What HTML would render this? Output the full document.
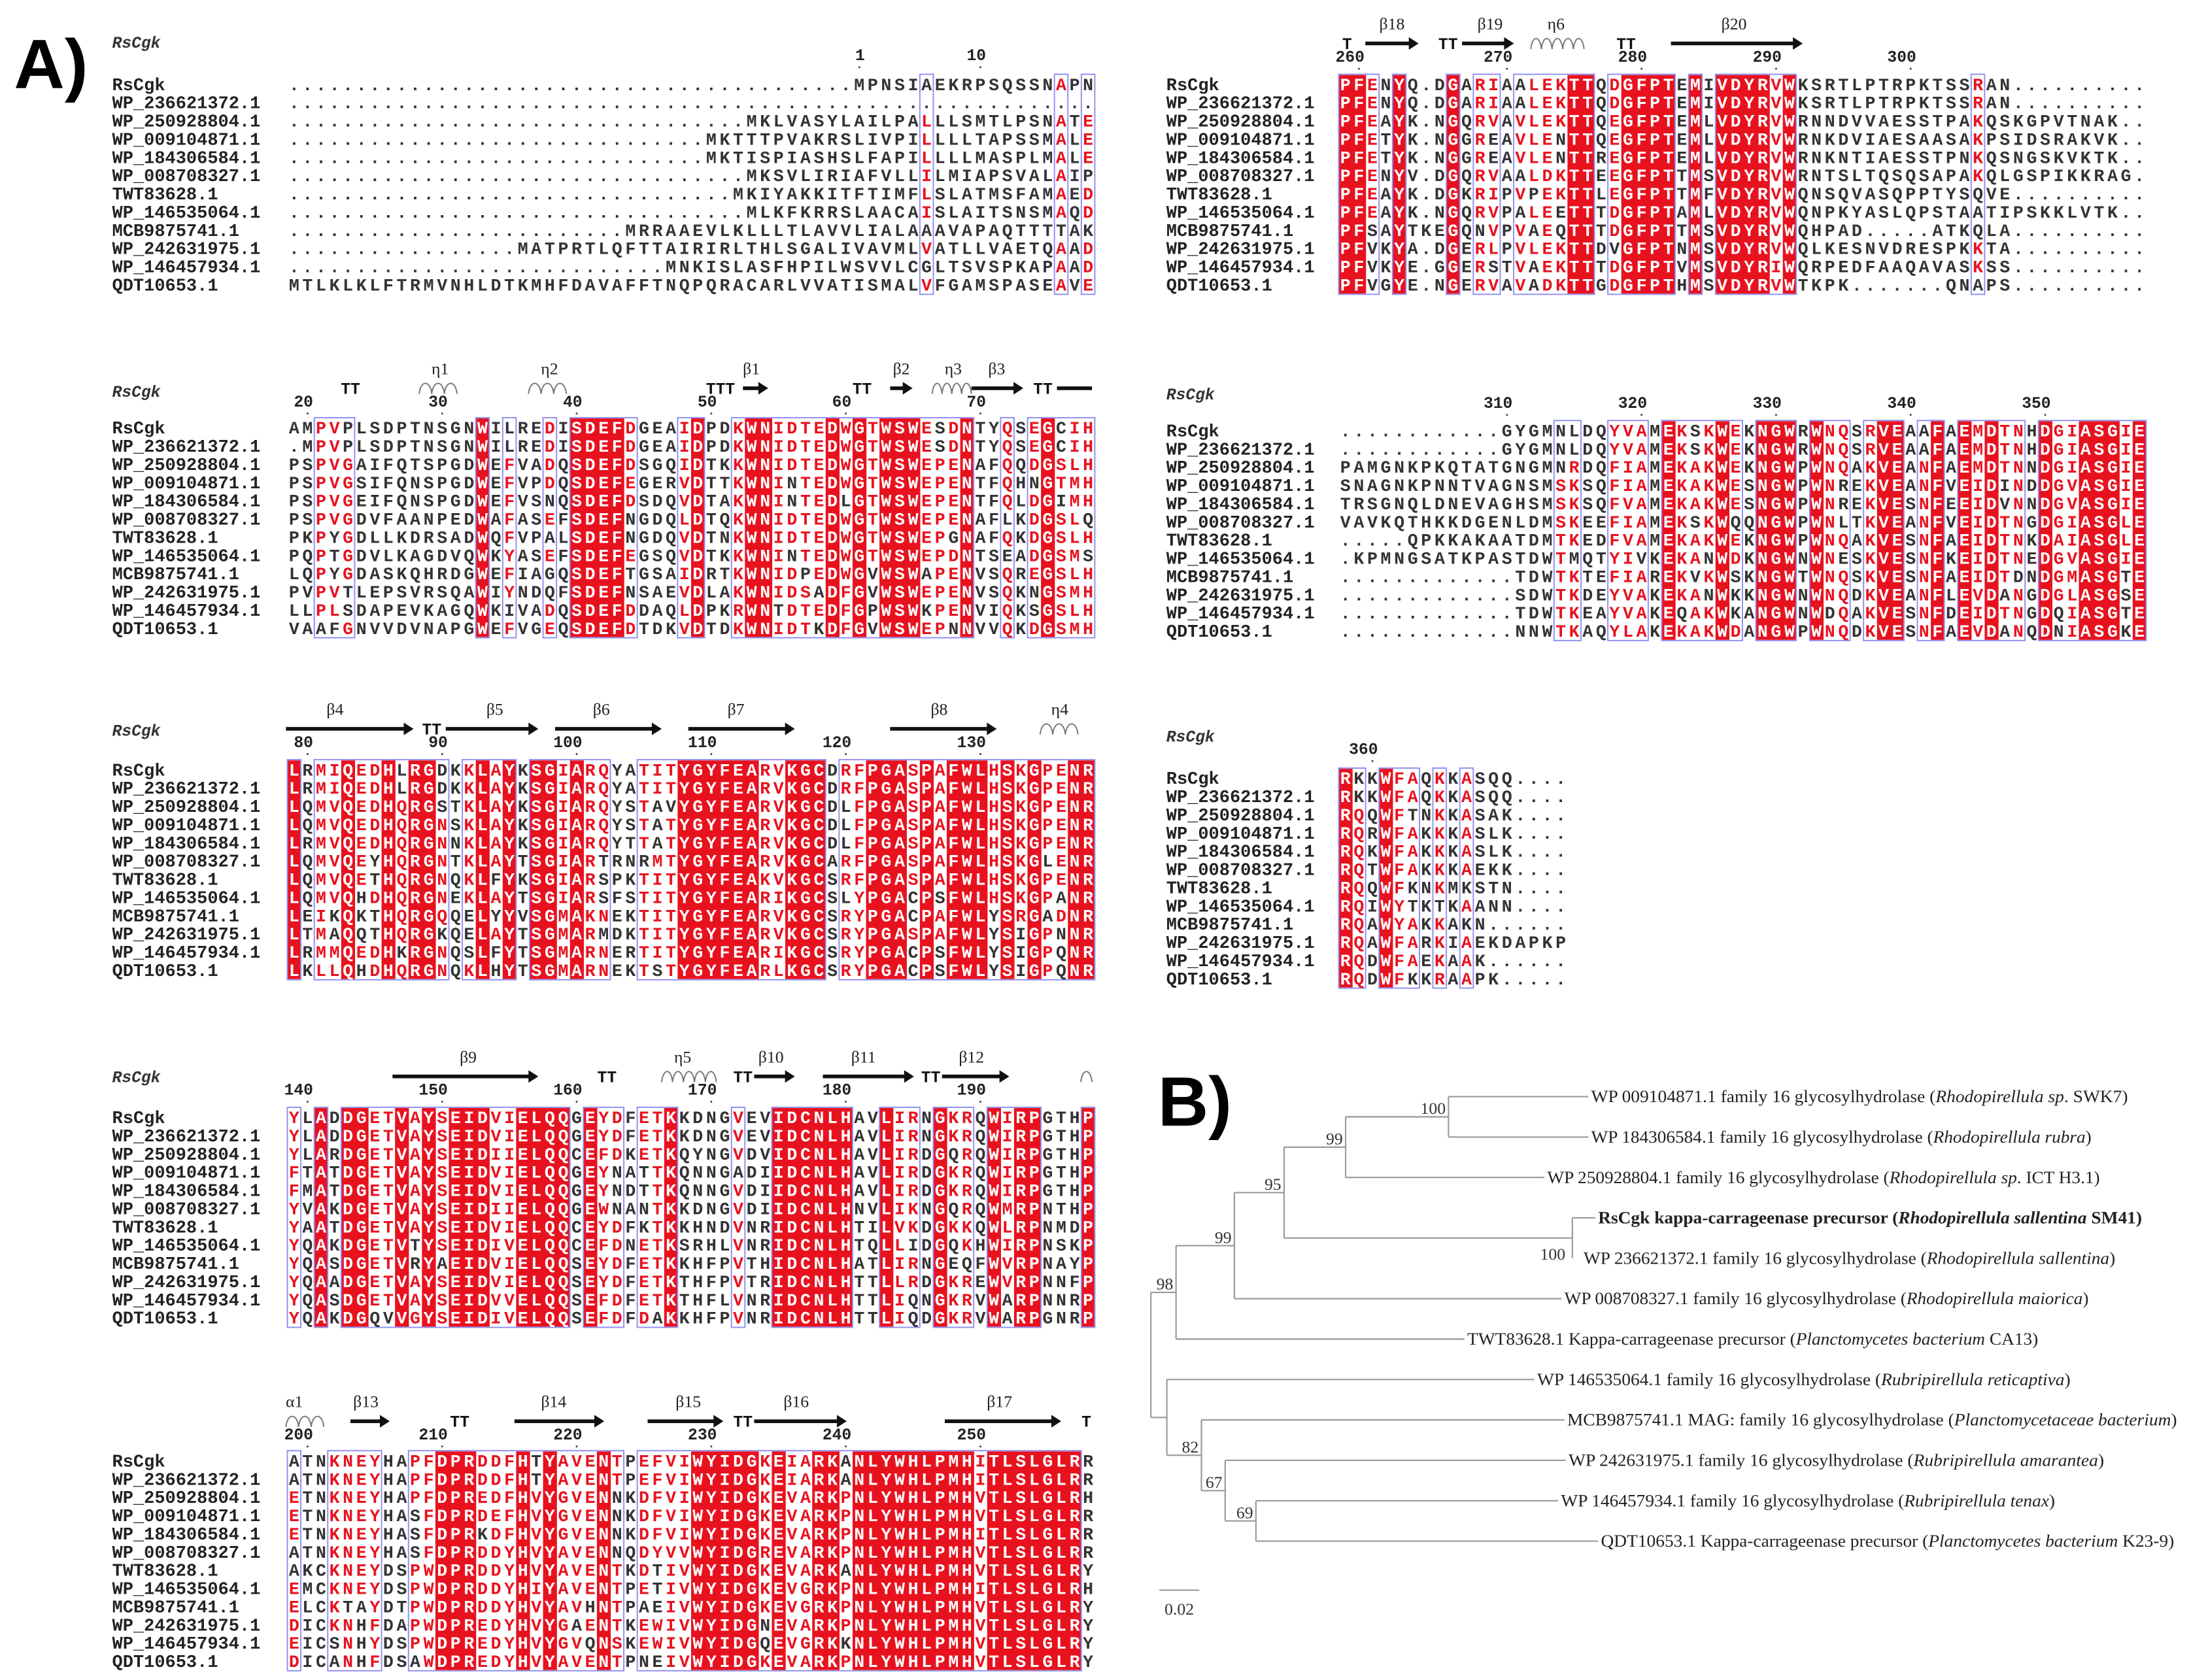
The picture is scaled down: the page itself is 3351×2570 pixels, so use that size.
<!DOCTYPE html>
<html><head><meta charset="utf-8">
<style>
html,body{margin:0;padding:0;background:#fff;}
svg{display:block;}
.mono{font-family:"Liberation Mono",monospace;font-weight:bold;}
.serif{font-family:"Liberation Serif",serif;}
</style></head>
<body>
<svg id="fig" xmlns="http://www.w3.org/2000/svg" width="3351" height="2570" viewBox="0 0 1563 1198.6" preserveAspectRatio="none">
<rect x="0" y="0" width="1563" height="1198.6" fill="#fff"/>
<text x="10" y="63" font-family="Liberation Sans, sans-serif" font-weight="bold" font-size="50">A)</text>
<text x="826" y="803" font-family="Liberation Sans, sans-serif" font-weight="bold" font-size="50">B)</text>
<g id="align"></g>
<g id="tree"></g>
</svg>
<script>
const NS="http://www.w3.org/2000/svg";
const seqNames=["RsCgk","WP_236621372.1","WP_250928804.1","WP_009104871.1","WP_184306584.1","WP_008708327.1","TWT83628.1","WP_146535064.1","MCB9875741.1","WP_242631975.1","WP_146457934.1","QDT10653.1"];

const seqB1=[
"MPNSIAEKRPSQSSNAPN","",
"MKLVASYLAILPALLLSMTLPSNATE","MKTTTPVAKRSLIVPILLLLTAPSSMALE","MKTISPIASHSLFAPILLLLMASPLMALE",
"MKSVLIRIAFVLLILMIAPSVALAIP","MKIYAKKITFTIMFLSLATMSFAMAED","MLKFKRRSLAACAISLAITSNSMAQD",
"MRRAAEVLKLLLTLAVVLIALAAAVAPAQTTTTAK","MATPRTLQFTTAIRIRLTHLSGALIVAVMLVATLLVAETQAAD",
"MNKISLASFHPILWSVVLCGLTSVSPKAPAAD","MTLKLKLFTRMVNHLDTKMHFDAVAFFTNQPQRACARLVVATISMALVFGAMSPASEAVE"];
const seqB2=[
"PFENYQ.DGARIAALEKTTQDGFPTEMIVDYRVWKSRTLPTRPKTSSRAN",
"PFENYQ.DGARIAALEKTTQDGFPTEMIVDYRVWKSRTLPTRPKTSSRAN",
"PFEAYK.NGQRVAVLEKTTQEGFPTEMLVDYRVWRNNDVVAESSTPAKQSKGPVTNAK",
"PFETYK.NGGREAVLENTTQEGFPTEMLVDYRVWRNKDVIAESAASAKPSIDSRAKVK",
"PFETYK.NGGREAVLENTTREGFPTEMLVDYRVWRNKNTIAESSTPNKQSNGSKVKTK",
"PFENYV.DGQRVAALDKTTEEGFPTTMSVDYRVWRNTSLTQSQSAPAKQLGSPIKKRAG",
"PFEAYK.DGKRIPVPEKTTLEGFPTTMFVDYRVWQNSQVASQPPTYSQVE",
"PFEAYK.NGQRVPALEETTTDGFPTAMLVDYRVWQNPKYASLQPSTAATIPSKKLVTK",
"PFSAYTKEGQNVPVAEQTTTDGFPTTMSVDYRVWQHPAD.....ATKQLA",
"PFVKYA.DGERLPVLEKTTDVGFPTNMSVDYRVWQLKESNVDRESPKKTA",
"PFVKYE.GGERSTVAEKTTTDGFPTVMSVDYRIWQRPEDFAAQAVASKSS",
"PFVGYE.NGERVAVADKTTGDGFPTHMSVDYRVWTKPK.......QNAPS"];
const seqB3=[
"AMPVPLSDPTNSGNWILREDISDEFDGEAIDPDKWNIDTEDWGTWSWESDNTYQSEGCIH",
".MPVPLSDPTNSGNWILREDISDEFDGEAIDPDKWNIDTEDWGTWSWESDNTYQSEGCIH",
"PSPVGAIFQTSPGDWEFVADQSDEFDSGQIDTKKWNIDTEDWGTWSWEPENAFQQDGSLH",
"PSPVGSIFQNSPGDWEFVPDQSDEFEGERVDTTKWNINTEDWGTWSWEPENTFQHNGTMH",
"PSPVGEIFQNSPGDWEFVSNQSDEFDSDQVDTAKWNINTEDLGTWSWEPENTFQLDGIMH",
"PSPVGDVFAANPEDWAFASEFSDEFNGDQLDTQKWNIDTEDWGTWSWEPENAFLKDGSLQ",
"PKPYGDLLKDRSADWQFVPALSDEFNGDQVDTNKWNIDTEDWGTWSWEPGNAFQKDGSLH",
"PQPTGDVLKAGDVQWKYASEFSDEFEGSQVDTKKWNINTEDWGTWSWEPDNTSEADGSMS",
"LQPYGDASKQHRDGWEFIAGQSDEFTGSAIDRTKWNIDPEDWGVWSWAPENVSQREGSLH",
"PVPVTLEPSVRSQAWIYNDQFSDEFNSAEVDLAKWNIDSADFGVWSWEPENVSQKNGSMH",
"LLPLSDAPEVKAGQWKIVADQSDEFDDAQLDPKRWNTDTEDFGPWSWKPENVIQKSGSLH",
"VAAFGNVVDVNAPGWEFVGEQSDEFDTDKVDTDKWNIDTKDFGVWSWEPNNVVQKDGSMH"];
const seqB4=[
"............GYGMNLDQYVAMEKSKWEKNGWRWNQSRVEAAFAEMDTNHDGIASGIE",
"............GYGMNLDQYVAMEKSKWEKNGWRWNQSRVEAAFAEMDTNHDGIASGIE",
"PAMGNKPKQTATGNGMNRDQFIAMEKAKWEKNGWPWNQAKVEANFAEMDTNNDGIASGIE",
"SNAGNKPNNTVAGNSMSKSQFIAMEKAKWESNGWPWNREKVEANFVEIDINDDGVASGIE",
"TRSGNQLDNEVAGHSMSKSQFVAMEKAKWESNGWPWNREKVESNFEEIDVNNDGVASGIE",
"VAVKQTHKKDGENLDMSKEEFIAMEKSKWQQNGWPWNLTKVEANFVEIDTNGDGIASGLE",
".....QPKKAKAATDMTKEDFVAMEKAKWEKNGWPWNQAKVESNFAEIDTNKDAIASGLE",
".KPMNGSATKPASTDWTMQTYIVKEKANWDKNGWNWNESKVESNFKEIDTNEDGVASGIE",
".............TDWTKTEFIAREKVKWSKNGWTWNQSKVESNFAEIDTDNDGMASGTE",
".............SDWTKDEYVAKEKANWKKNGWNWNQDKVEANFLEVDANGDGLASGSE",
".............TDWTKEAYVAKEQAKWKANGWNWDQAKVESNFDEIDTNGDQIASGTE",
".............NNWTKAQYLAKEKAKWDANGWPWNQDKVESNFAEVDANQDNIASGKE"];
const seqB5=[
"LRMIQEDHLRGDKKLAYKSGIARQYATITYGYFEARVKGCDRFPGASPAFWLHSKGPENR",
"LRMIQEDHLRGDKKLAYKSGIARQYATITYGYFEARVKGCDRFPGASPAFWLHSKGPENR",
"LQMVQEDHQRGSTKLAYKSGIARQYSTAVYGYFEARVKGCDLFPGASPAFWLHSKGPENR",
"LQMVQEDHQRGNSKLAYKSGIARQYSTATYGYFEARVKGCDLFPGASPAFWLHSKGPENR",
"LRMVQEDHQRGNNKLAYKSGIARQYTTATYGYFEARVKGCDLFPGASPAFWLHSKGPENR",
"LQMVQEYHQRGNTKLAYTSGIARTRNRMTYGYFEARVKGCARFPGASPAFWLHSKGLENR",
"LQMVQETHQRGNQKLFYKSGIARSPKTITYGYFEAKVKGCSRFPGASPAFWLHSKGPENR",
"LQMVQHDHQRGNEKLAYTSGIARSFSTITYGYFEARIKGCSLYPGACPSFWLHSKGPANR",
"LEIKQKTHQRGQQELYYVSGMAKNEKTITYGYFEARVKGCSRYPGACPAFWLYSRGADNR",
"LTMAQQTHQRGKQELAYTSGMARMDKTITYGYFEARVKGCSRYPGASPAFWLYSIGPNNR",
"LRMMQEDHKRGNQSLFYTSGMARNERTITYGYFEARIKGCSRYPGACPSFWLYSIGPQNR",
"LKLLQHDHQRGNQKLHYTSGMARNEKTSTYGYFEARLKGCSRYPGACPSFWLYSIGPQNR"];
const seqB6=[
"RKKWFAQKKASQQ....","RKKWFAQKKASQQ....","RQQWFTNKKASAK....","RQRWFAKKKASLK....",
"RQKWFAKKKASLK....","RQTWFAKKKAEKK....","RQQWFKNKMKSTN....","RQIWYTKTKAANN....",
"RQAWYAKKAKN......","RQAWFARKIAEKDAPKP","RQDWFAEKAAK......","RQDWFKKRAAPK....."];
const seqB7=[
"YLADDGETVAYSEIDVIELQQGEYDFETKKDNGVEVIDCNLHAVLIRNGKRQWIRPGTHP",
"YLADDGETVAYSEIDVIELQQGEYDFETKKDNGVEVIDCNLHAVLIRNGKRQWIRPGTHP",
"YLARDGETVAYSEIDIIELQQCEFDKETKQYNGVDVIDCNLHAVLIRDGQRQWIRPGTHP",
"FTATDGETVAYSEIDVIELQQGEYNATTKQNNGADIIDCNLHAVLIRDGKRQWIRPGTHP",
"FMATDGETVAYSEIDVIELQQGEYNDTTKQNNGVDIIDCNLHAVLIRDGKRQWIRPGTHP",
"YVAKDGETVAYSEIDIIELQQGEWNANTKKDNGVDIIDCNLHNVLIKNGQRQWMRPNTHP",
"YAATDGETVAYSEIDVIELQQCEYDFKTKKHNDVNRIDCNLHTILVKDGKKQWLRPNMDP",
"YQAKDGETVTYSEIDIVELQQCEFDNETKSRHLVNRIDCNLHTQLLIDGQKHWIRPNSKP",
"YQASDGETVRYAEIDVIELQQSEYDFETKKHFPVTHIDCNLHATLIRNGEQFWVRPNAYP",
"YQAADGETVAYSEIDVIELQQSEYDFETKTHFPVTRIDCNLHTTLLRDGKREWVRPNNFP",
"YQASDGETVAYSEIDVVELQQSEFDFETKTHFLVNRIDCNLHTTLIQNGKRVWARPNNRP",
"YQAKDGQVVGYSEIDIVELQQSEFDFDAKKHFPVNRIDCNLHTTLIQDGKRVWARPGNRP"];
const seqB8=[
"ATNKNEYHAPFDPRDDFHTYAVENTPEFVIWYIDGKEIARKANLYWHLPMHITLSLGLRR",
"ATNKNEYHAPFDPRDDFHTYAVENTPEFVIWYIDGKEIARKANLYWHLPMHITLSLGLRR",
"ETNKNEYHAPFDPREDFHVYGVENNKDFVIWYIDGKEVARKPNLYWHLPMHVTLSLGLRH",
"ETNKNEYHASFDPRDEFHVYGVENNKDFVIWYIDGKEVARKPNLYWHLPMHVTLSLGLRR",
"ETNKNEYHASFDPRKDFHVYGVENNKDFVIWYIDGKEVARKPNLYWHLPMHITLSLGLRR",
"ATNKNEYHASFDPRDDYHVYAVENNQDYVVWYIDGREVARKPNLYWHLPMHVTLSLGLRR",
"AKCKNEYDSPWDPRDDYHVYAVENTKDTIVWYIDGKEVARKANLYWHLPMHVTLSLGLRY",
"EMCKNEYDSPWDPRDDYHIYAVENTPETIVWYIDGKEVGRKPNLYWHLPMHITLSLGLRH",
"ELCKTAYDTPWDPRDDYHVYAVHNTPAEIVWYIDGKEVGRKPNLYWHLPMHVTLSLGLRY",
"DICKNHFDAPWDPREDYHVYGAENTKEWIVWYIDGNEVARKPNLYWHLPMHVTLSLGLRY",
"EICSNHYDSPWDPREDYHVYGVQNSKEWIVWYIDGQEVGRKKNLYWHLPMHVTLSLGLRY",
"DICANHFDSAWDPREDYHVYAVENTPNEIVWYIDGKEVARKPNLYWHLPMHVTLSLGLRY"];

/* first residue number of RsCgk in each block */
const blockStart=[1,259,19,310,79,358,139,199];
const blockMaxNum=[9999,9999,9999,9999,9999,360,9999,9999];

const CW=9.6, RP=13;
const blocks=[
 {seqs:seqB1,x:205,y:60,num:43,hdr:30,nx:80,len:60},
 {seqs:seqB2,x:955,y:60,num:44,hdr:null,nx:832,len:60},
 {seqs:seqB3,x:205,y:305,num:290,hdr:279,nx:80,len:60},
 {seqs:seqB4,x:955,y:307,num:291,hdr:281,nx:832,len:60},
 {seqs:seqB5,x:205,y:549,num:533,hdr:521,nx:80,len:60},
 {seqs:seqB6,x:955,y:555,num:538,hdr:525,nx:832,len:17},
 {seqs:seqB7,x:205,y:797,num:781,hdr:768,nx:80,len:60},
 {seqs:seqB8,x:205,y:1042,num:1027,hdr:null,nx:80,len:60}
];
const ssData=[
 [],
 [{t:'T',x:961},{a:[974,1012],l:'β18',lx:993},{t:'TT',x:1033},{a:[1043,1080],l:'β19',lx:1063},{c:[1092,1130],l:'η6',lx:1110},{t:'TT',x:1160},{a:[1192,1286],l:'β20',lx:1237}],
 [{t:'TT',x:250},{c:[299,326],l:'η1',lx:314},{c:[377,404],l:'η2',lx:392},{t:'TTT',x:514},{a:[530,548],l:'β1',lx:536},{t:'TT',x:615},{a:[635,651],l:'β2',lx:643},{c:[665,693],l:'η3',lx:680},{a:[693,730],l:'β3',lx:711},{t:'TT',x:744},{ln:[754,779]}],
 [],
 [{a:[204,295],l:'β4',lx:239},{t:'TT',x:308},{a:[318,384],l:'β5',lx:353},{a:[396,472],l:'β6',lx:429},{a:[491,567],l:'β7',lx:525},{a:[635,711],l:'β8',lx:670},{c:[742,769],l:'η4',lx:756}],
 [],
 [{a:[280,384],l:'β9',lx:334},{t:'TT',x:433},{c:[472,511],l:'η5',lx:487},{t:'TT',x:530},{a:[538,567],l:'β10',lx:550},{a:[587,652],l:'β11',lx:616},{t:'TT',x:664},{a:[672,720],l:'β12',lx:693},{c:[771,779]}],
 [{c:[204,231],l:'α1',lx:210},{a:[250,278],l:'β13',lx:261},{t:'TT',x:328},{a:[367,431],l:'β14',lx:395},{a:[462,516],l:'β15',lx:491},{t:'TT',x:530},{a:[538,604],l:'β16',lx:568},{a:[674,757],l:'β17',lx:713},{t:'T',x:775}]
];
const groups=["ILVM","FYW","KR","DE","ST","NQ","AG","H","C","P"];
const RED="#e8121f", BLUE="#8f8ff2";
const root=document.getElementById('align');
function mk(tag,attrs,parent){const e=document.createElementNS(NS,tag);for(const k in attrs)e.setAttribute(k,attrs[k]);(parent||root).appendChild(e);return e;}

blocks.forEach((b,bi)=>{
  const g=mk('g',{});
  
  
  const rows=b.seqs.map((s,i)=>{
    if(bi===0){ return ('.'.repeat(b.len)+s).slice(-b.len); }
    return (s+'.'.repeat(b.len)).slice(0,b.len);
  });
  const n=rows.length;
  const ident=[],sim=[],redRows=[];
  for(let c=0;c<b.len;c++){
    const col=rows.map(r=>r[c]);
    const allSame=col.every(ch=>ch!=='.'&&ch===col[0]);
    let best=0,bestG='';
    groups.forEach(gr=>{const k=col.filter(ch=>gr.includes(ch)).length;if(k>best){best=k;bestG=gr;}});
    ident.push(allSame);
    sim.push(!allSame && best/n>=0.6);
    redRows.push(col.map(ch=>bestG.includes(ch)));
  }
  const top=b.y-RP/2, bot=b.y+(n-1)*RP+RP/2;
  for(let c=0;c<b.len;c++){
    if(ident[c]){const r=mk('rect',{x:b.x+c*CW,y:top,width:CW+0.3,height:bot-top,fill:RED},g);
      }
  }
  let c=0;
  while(c<b.len){
    if(ident[c]||sim[c]){let e=c;while(e+1<b.len&&(ident[e+1]||sim[e+1]))e++;
      const r=mk('rect',{x:b.x+c*CW,y:top-0.5,width:(e-c+1)*CW,height:bot-top+1,fill:'none',stroke:BLUE,'stroke-width':0.9},g);
      
      c=e+1;} else c++;
  }
  rows.forEach((s,ri)=>{
    const cy=b.y+ri*RP;
    const nm=mk('text',{x:b.nx,y:cy+4.3,class:'mono','font-size':12.6,fill:'#222'},g);
    nm.textContent=seqNames[ri];
    
    for(let k=0;k<s.length;k++){
      const ch=s[k];
      let fill='#333';
      if(ident[k]) fill='#fff'; else if(sim[k]&&redRows[k][ri]) fill=RED;
      const t=mk('text',{x:b.x+(k+0.5)*CW,y:cy+4.3,class:'mono','font-size':12.4,'text-anchor':'middle',fill:fill},g);
      t.textContent=ch;
    }
  });
  if(b.hdr!==null){const h=mk('text',{x:b.nx,y:b.hdr+4,class:'mono','font-size':11.5,'font-style':'italic',fill:'#333'},g);h.textContent='RsCgk';
    }
  let res=blockStart[bi];
  for(let k=0;k<b.len;k++){
    const ch=rows[0][k]; if(ch==='.') continue;
    if((res===1||res%10===0) && res<=blockMaxNum[bi]){
      const cx=b.x+(k+0.5)*CW;
      const t=mk('text',{x:cx+4,y:b.num,class:'mono','font-size':11.5,'text-anchor':'end',fill:'#222'},g);
      t.textContent=String(res);
      
      mk('circle',{cx:cx,cy:b.num+5,r:0.7,fill:'#444'},g);
    }
    res++;
  }
  const ay=b.num-13, ly=b.num-27;
  ssData[bi].forEach(it=>{
    if(it.t){const t=mk('text',{x:it.x,y:ay+4,'font-family':'Liberation Mono, monospace','font-weight':'bold','font-size':11.5,'text-anchor':'middle',fill:'#111'},g);t.textContent=it.t;
      }
    if(it.a){mk('line',{x1:it.a[0],y1:ay,x2:it.a[1]-6,y2:ay,stroke:'#111','stroke-width':2.6},g);
      const p=mk('polygon',{points:`${it.a[1]-7},${ay-4.5} ${it.a[1]},${ay} ${it.a[1]-7},${ay+4.5}`,fill:'#111'},g);
      }
    if(it.ln){mk('line',{x1:it.ln[0],y1:ay,x2:it.ln[1],y2:ay,stroke:'#111','stroke-width':2.6},g);}
    if(it.c){const w=it.c[1]-it.c[0];const nLoops=Math.max(1,Math.round(w/8));let d='';
      for(let q=0;q<nLoops;q++){const x0=it.c[0]+q*w/nLoops,x1=x0+w/nLoops;
        d+=`M${x0},${ay+4} C${x0+1},${ay-6} ${x1-1},${ay-6} ${x1},${ay+4} `;}
      const p=mk('path',{d:d,fill:'none',stroke:'#777','stroke-width':0.9},g);
      }
    if(it.l){const t=mk('text',{x:it.lx,y:ly+4,'font-family':'Liberation Serif, serif','font-size':12,'text-anchor':'middle',fill:'#222'},g);t.textContent=it.l;
      }
  });
});

/* ---------- Phylogenetic tree ---------- */
const leafLabels=[
 ["WP 009104871.1 family 16 glycosylhydrolase (","Rhodopirellula sp",". SWK7)"],
 ["WP 184306584.1 family 16 glycosylhydrolase (","Rhodopirellula rubra",")"],
 ["WP 250928804.1 family 16 glycosylhydrolase (","Rhodopirellula sp",". ICT H3.1)"],
 ["RsCgk kappa-carrageenase precursor (","Rhodopirellula sallentina"," SM41)"],
 ["WP 236621372.1 family 16 glycosylhydrolase (","Rhodopirellula sallentina",")"],
 ["WP 008708327.1 family 16 glycosylhydrolase (","Rhodopirellula maiorica",")"],
 ["TWT83628.1 Kappa-carrageenase precursor (","Planctomycetes bacterium"," CA13)"],
 ["WP 146535064.1 family 16 glycosylhydrolase (","Rubripirellula reticaptiva",")"],
 ["MCB9875741.1 MAG: family 16 glycosylhydrolase (","Planctomycetaceae bacterium",")"],
 ["WP 242631975.1 family 16 glycosylhydrolase (","Rubripirellula amarantea",")"],
 ["WP 146457934.1 family 16 glycosylhydrolase (","Rubripirellula tenax",")"],
 ["QDT10653.1 Kappa-carrageenase precursor (","Planctomycetes bacterium"," K23-9)"]];
const leafDepth=[0.219,0.219,0.197,0.2225,0.211,0.2056,0.157,0.192,0.207,0.2077,0.2039,0.2239];
const labelEnd=[1518,1492,1498,1528,1509,1490,1454,1477,1553,1501,1466,1551];
const nodeIds=["A","B","D","C","E","F","J","I","H","G","R"];
const nodeChildren=[["L0","L1"],["A","L2"],["L3","L4"],["B","D"],["C","L5"],["E","L6"],["L10","L11"],["L9","J"],["L8","I"],["L7","H"],["F","G"]];
const nodeDepth=[0.149,0.0975,0.211,0.0667,0.0418,0.0126,0.0526,0.0372,0.0253,0.008,0];
const bootstrap=["100","99","100","95","99","98","69","67","82","",""];
const scaleBarValue=0.02;

const T=document.getElementById('tree');
const X0=821, PXU=1425, Y0=782.4, DY=28.83;
const xs=d=>X0+d*PXU, ys=i=>Y0+i*DY;
function tk(tag,attrs){const e=document.createElementNS(NS,tag);for(const k in attrs)e.setAttribute(k,attrs[k]);T.appendChild(e);return e;}
const pos={};
leafDepth.forEach((d,i)=>{pos['L'+i]={x:xs(d),y:ys(i)};});
nodeIds.forEach((id,k)=>{
  const ch=nodeChildren[k].map(c=>pos[c]);
  const x=xs(nodeDepth[k]);
  const ymin=Math.min(...ch.map(p=>p.y)), ymax=Math.max(...ch.map(p=>p.y));
  pos[id]={x:x,y:(ymin+ymax)/2};
  const v=tk('line',{x1:x,y1:ymin,x2:x,y2:ymax,stroke:'#999','stroke-width':1});
  
  ch.forEach(p=>{const h=tk('line',{x1:x,y1:p.y,x2:p.x,y2:p.y,stroke:'#999','stroke-width':1});
    });
  if(bootstrap[k]){
    const bt=tk('text',{x:x-2,y:(ymin+ymax)/2-2,'text-anchor':'end',class:'serif','font-size':12,fill:'#333'});
    if(id==='D'){bt.setAttribute('y',ymax+1);bt.setAttribute('x',x-5);}
    bt.textContent=bootstrap[k];
    
  }
});
leafLabels.forEach((parts,i)=>{
  const p=pos['L'+i];
  const sx=p.x+(i===4?8:2);
  const t=tk('text',{x:sx,y:p.y+4,class:'serif','font-size':12.5,fill:'#222',textLength:labelEnd[i]-sx,lengthAdjust:'spacingAndGlyphs'});
  if(i===3)t.setAttribute('font-weight','bold');
  const a=document.createElementNS(NS,'tspan');a.textContent=parts[0];t.appendChild(a);
  const b=document.createElementNS(NS,'tspan');b.setAttribute('font-style','italic');b.textContent=parts[1];t.appendChild(b);
  const c=document.createElementNS(NS,'tspan');c.textContent=parts[2];t.appendChild(c);
  
  
});
const sb=tk('line',{x1:xs(0)+6,y1:1134.5,x2:xs(scaleBarValue)+6,y2:1134.5,stroke:'#999','stroke-width':1});

const sbl=tk('text',{x:xs(scaleBarValue/2)+6,y:1152,'text-anchor':'middle',class:'serif','font-size':12,fill:'#333'});
sbl.textContent=String(scaleBarValue);

</script>
</body></html>
